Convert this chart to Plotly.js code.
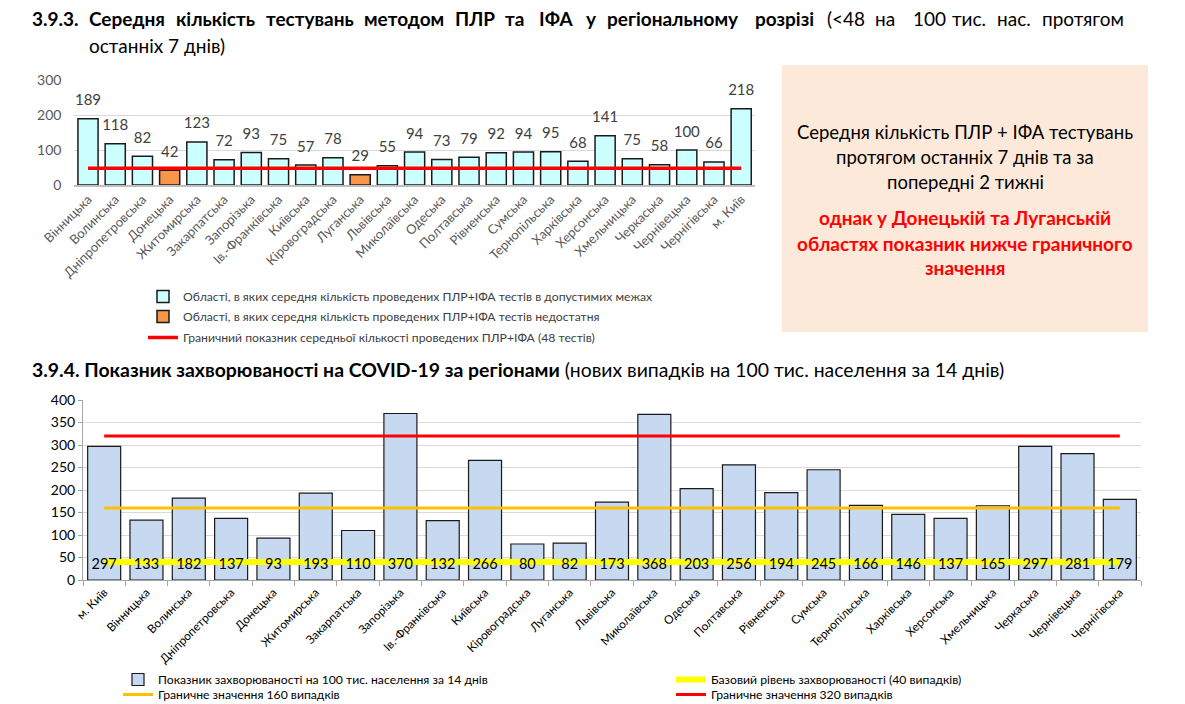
<!DOCTYPE html>
<html>
<head>
<meta charset="utf-8">
<script src="https://cdn.plot.ly/plotly-3.0.1.min.js"></script>
<style>
html,body{margin:0;padding:0;background:#fff;}
#chart{width:1185px;height:704px;}
</style>
</head>
<body>
<div id="chart"></div>
<script>
// ---------- DATA ----------
const regionsTests = ['Вінницька','Волинська','Дніпропетровська','Донецька','Житомирська','Закарпатська','Запорізька','Ів.-Франківська','Київська','Кіровоградська','Луганська','Львівська','Миколаївська','Одеська','Полтавська','Рівненська','Сумська','Тернопільська','Харківська','Херсонська','Хмельницька','Черкаська','Чернівецька','Чернігівська','м. Київ'];
const testsPer100k = [189,118,82,42,123,72,93,75,57,78,29,55,94,73,79,92,94,95,68,141,75,58,100,66,218];
const testsThreshold = 48;

const regionsIncidence = ['м. Київ','Вінницька','Волинська','Дніпропетровська','Донецька','Житомирська','Закарпатська','Запорізька','Ів.-Франківська','Київська','Кіровоградська','Луганська','Львівська','Миколаївська','Одеська','Полтавська','Рівненська','Сумська','Тернопільська','Харківська','Херсонська','Хмельницька','Черкаська','Чернівецька','Чернігівська'];
const incidence14d = [297,133,182,137,93,193,110,370,132,266,80,82,173,368,203,256,194,245,166,146,137,165,297,281,179];
const baseLevel = 40;
const limitMid = 160;
const limitHigh = 320;

// ---------- HELPERS ----------
const W = 1185, H = 704;
const PX = x => x / W;
const PY = y => 1 - y / H;
const FONT = 'Lato, "Open Sans", "Noto Sans", sans-serif';
const LABEL_Y = 33;

// ---------- TRACES ----------
const traces = [
  {
    type: 'bar', xaxis: 'x', yaxis: 'y', legend: 'legend',
    name: 'Області, в яких середня кількість проведених ПЛР+ІФА тестів в допустимих межах',
    x: regionsTests, y: testsPer100k.map(v => v >= testsThreshold ? v : null),
    width: 0.74,
    marker: {color: '#CCFFFF', line: {color: '#1a1a1a', width: 1.5}},
    hoverinfo: 'x+y'
  },
  {
    type: 'bar', xaxis: 'x', yaxis: 'y', legend: 'legend6',
    name: 'Області, в яких середня кількість проведених ПЛР+ІФА тестів недостатня',
    x: regionsTests, y: testsPer100k.map(v => v < testsThreshold ? v : null),
    width: 0.74,
    marker: {color: '#F79646', line: {color: '#1a1a1a', width: 1.5}},
    hoverinfo: 'x+y'
  },
  {
    type: 'scatter', mode: 'lines', xaxis: 'x', yaxis: 'y', legend: 'legend7',
    name: 'Граничний показник середньої кількості проведених ПЛР+ІФА (48 тестів)',
    x: regionsTests, y: regionsTests.map(() => testsThreshold),
    line: {color: '#FF0000', width: 3.5}
  },
  {
    type: 'scatter', mode: 'markers+text', xaxis: 'x', yaxis: 'y', showlegend: false,
    x: regionsTests, y: testsPer100k, text: testsPer100k.map(String),
    textposition: 'top center', cliponaxis: false,
    marker: {size: 14, opacity: 0},
    textfont: {family: FONT, size: 15, color: '#404040'},
    hoverinfo: 'skip'
  },
  {
    type: 'bar', xaxis: 'x2', yaxis: 'y2', legend: 'legend2',
    name: 'Показник захворюваності на 100 тис. населення за 14 днів',
    x: regionsIncidence, y: incidence14d, width: 0.78,
    marker: {color: '#C6D9F1', line: {color: '#1a1a1a', width: 1.2}},
    hoverinfo: 'x+y'
  },
  {
    type: 'scatter', mode: 'lines', xaxis: 'x2', yaxis: 'y2', legend: 'legend3',
    name: 'Граничне значення 160 випадків',
    x: regionsIncidence, y: regionsIncidence.map(() => limitMid),
    line: {color: '#FFC000', width: 3}
  },
  {
    type: 'scatter', mode: 'lines', xaxis: 'x2', yaxis: 'y2', legend: 'legend4',
    name: 'Базовий рівень захворюваності (40 випадків)',
    x: regionsIncidence, y: regionsIncidence.map(() => baseLevel),
    line: {color: '#FFFF00', width: 6}
  },
  {
    type: 'scatter', mode: 'lines', xaxis: 'x2', yaxis: 'y2', legend: 'legend5',
    name: 'Граничне значення 320 випадків',
    x: regionsIncidence, y: regionsIncidence.map(() => limitHigh),
    line: {color: '#FF0000', width: 3}
  },
  {
    type: 'scatter', mode: 'text', xaxis: 'x2', yaxis: 'y2', showlegend: false,
    x: regionsIncidence, y: regionsIncidence.map(() => LABEL_Y),
    text: incidence14d.map(String), textposition: 'middle center', cliponaxis: false,
    textfont: {family: FONT, size: 14.5, color: '#000000'},
    hoverinfo: 'skip'
  }
];

// ---------- TEXT ----------
const annotations = [];
function word(text, x, y, size, bold, color) {
  annotations.push({
    xref: 'paper', yref: 'paper', x: PX(x), y: PY(y), xanchor: 'left', yanchor: 'middle',
    text: bold ? '<b>' + text + '</b>' : text, showarrow: false, borderpad: 0,
    font: {family: FONT, size: size, color: color || '#000000'}
  });
}
[
  ['3.9.3.',31,true],['Середня',88,true],['кількість',175,true],['тестувань',265,true],
  ['методом',363,true],['ПЛР',454,true],['та',504,true],['ІФА',538,true],['у',585,true],
  ['регіональному',606,true],['розрізі',754,true],['(&lt;48',826,false],['на',874,false],
  ['100',912,false],['тис.',951,false],['нас.',996,false],['протягом',1041,false]
].forEach(w => word(w[0], w[1], 19, 19, w[2]));
word('останніх 7 днів)', 88, 46, 19, false);
word('<b>3.9.4. Показник захворюваності на COVID-19 за регіонами</b> (нових випадків на 100 тис. населення за 14 днів)', 31, 370, 19.4, false);

function centered(text, y, size, color) {
  annotations.push({
    xref: 'paper', yref: 'paper', x: PX(965), y: PY(y), xanchor: 'center', yanchor: 'middle',
    text: text, showarrow: false, font: {family: FONT, size: size, color: color}
  });
}
centered('Середня кількість ПЛР + ІФА тестувань', 132, 18.5, '#000000');
centered('протягом останніх 7 днів та за', 157, 18.5, '#000000');
centered('попередні 2 тижні', 182, 18.5, '#000000');
centered('<b>однак у Донецькій та Луганській</b>', 217, 19, '#FF0000');
centered('<b>областях показник нижче граничного</b>', 243, 19, '#FF0000');
centered('<b>значення</b>', 268, 19, '#FF0000');

// ---------- LAYOUT ----------
function legendAt(x, y, color, size) {
  return {x: PX(x), y: PY(y), xanchor: 'left', yanchor: 'top', bgcolor: 'rgba(0,0,0,0)',
          borderwidth: 0, tracegroupgap: 0, itemwidth: 30, itemclick: false, itemdoubleclick: false,
          font: {family: FONT, size: size, color: color}};
}

const layout = {
  width: W, height: H,
  margin: {l: 0, r: 0, t: 0, b: 0, autoexpand: false},
  paper_bgcolor: '#ffffff', plot_bgcolor: 'rgba(0,0,0,0)',
  barmode: 'overlay',
  font: {family: FONT},
  xaxis: {
    domain: [PX(74.4), PX(754.8)], anchor: 'y', type: 'category', range: [-0.5, regionsTests.length - 0.5],
    tickangle: -45, tickfont: {family: FONT, size: 13, color: '#595959'},
    showline: true, linecolor: '#BFBFBF', linewidth: 1.5, showgrid: false, ticks: '', fixedrange: true
  },
  yaxis: {
    domain: [PY(185), PY(80)], anchor: 'x', range: [0, 300], dtick: 100,
    gridcolor: '#D9D9D9', zeroline: false, showline: false, ticks: '',
    tickfont: {family: FONT, size: 14, color: '#595959'}, ticklabelstandoff: 12, fixedrange: true
  },
  xaxis2: {
    domain: [PX(83), PX(1141)], anchor: 'y2', type: 'category', range: [-0.5, regionsIncidence.length - 0.5],
    tickangle: -45, tickfont: {family: FONT, size: 11.8, color: '#000000'},
    showline: true, linecolor: '#A6A6A6', showgrid: false,
    ticks: 'outside', tickson: 'boundaries', ticklen: 5, tickcolor: '#A6A6A6', fixedrange: true
  },
  yaxis2: {
    domain: [PY(580), PY(400)], anchor: 'x2', range: [0, 400], dtick: 50,
    gridcolor: '#D9D9D9', zeroline: false, showline: true, linecolor: '#A6A6A6',
    ticks: 'outside', ticklen: 4, tickcolor: '#A6A6A6',
    tickfont: {family: FONT, size: 14, color: '#000000'}, fixedrange: true
  },
  legend: legendAt(143, 282, '#404040', 12.2),
  legend6: legendAt(143, 302, '#404040', 12.2),
  legend7: legendAt(143, 323, '#404040', 12.2),
  legend2: legendAt(118, 665, '#000000', 12.2),
  legend3: legendAt(118, 680, '#000000', 12.2),
  legend4: legendAt(671, 665, '#000000', 12.2),
  legend5: legendAt(671, 680, '#000000', 12.2),
  shapes: [{
    type: 'rect', xref: 'paper', yref: 'paper', layer: 'below',
    x0: PX(782), x1: PX(1148), y0: PY(332), y1: PY(65),
    fillcolor: '#FDE9D9', line: {width: 0}
  }],
  annotations: annotations,
  showlegend: true
};

Plotly.newPlot('chart', traces, layout, {displayModeBar: false});
</script>
</body>
</html>
